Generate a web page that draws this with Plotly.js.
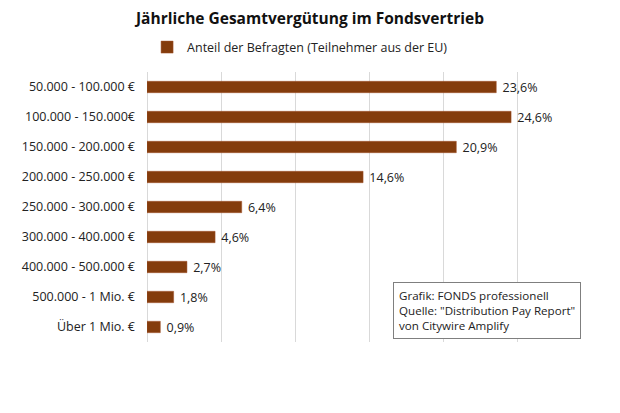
<!DOCTYPE html>
<html>
<head>
<meta charset="utf-8">
<script src="https://cdn.plot.ly/plotly-3.0.1.min.js"></script>
<style>html,body{margin:0;padding:0;background:#fff;}#chart{width:620px;height:413px;}</style>
</head>
<body>
<div id="chart"></div>
<script>
const categories = [
  "50.000 - 100.000 €",
  "100.000 - 150.000€",
  "150.000 - 200.000 €",
  "200.000 - 250.000 €",
  "250.000 - 300.000 €",
  "300.000 - 400.000 €",
  "400.000 - 500.000 €",
  "500.000 - 1 Mio. €",
  "Über 1 Mio. €"
];
const shares = [23.6, 24.6, 20.9, 14.6, 6.4, 4.6, 2.7, 1.8, 0.9];
const seriesName = "Anteil der Befragten (Teilnehmer aus der EU)";
const titleText = "Jährliche Gesamtvergütung im Fondsvertrieb";
const sourceLines = ["Grafik: FONDS professionell", "Quelle: \"Distribution Pay Report\"", "von Citywire Amplify"];

const font = "Open Sans, Liberation Sans, sans-serif";

const trace = {
  type: "bar",
  orientation: "h",
  y: categories,
  x: shares,
  name: seriesName,
  marker: {color: "#843C0C", line: {color: "#A0522D", width: 0.5}},
  texttemplate: " %{x:.1f}%",
  textposition: "outside",
  constraintext: "none",
  cliponaxis: false,
  textfont: {family: font, size: 12.5, color: "#222"},
  hoverinfo: "skip"
};

const layout = {
  width: 620, height: 413,
  margin: {l: 147, r: 29, t: 72, b: 71},
  paper_bgcolor: "#fff", plot_bgcolor: "#fff",
  separators: ",.",
  bargap: 0.62,
  showlegend: true,
  title: {text: "<b>" + titleText + "</b>", font: {family: font, size: 15.5, color: "#111"}, x: 0.5, xanchor: "center", y: 0.955, yanchor: "middle"},
  legend: {orientation: "h", xref: "container", yref: "container", x: 0.484, xanchor: "center", y: 0.885, yanchor: "middle",
           font: {family: font, size: 12.5, color: "#222"}, itemwidth: 30},
  xaxis: {range: [0, 30], dtick: 5, showticklabels: false, showgrid: true, gridcolor: "#d9d9d9", gridwidth: 1,
          zeroline: true, zerolinecolor: "#d9d9d9", zerolinewidth: 1, showline: false, fixedrange: true},
  yaxis: {autorange: "reversed", showgrid: false, showline: false, ticks: "", ticklabelstandoff: 11,
          tickfont: {family: font, size: 12.5, color: "#222"}, fixedrange: true},
  annotations: [{
    xref: "paper", yref: "paper", x: (393 - 147) / 444, y: (342 - 282) / 270, xanchor: "left", yanchor: "top",
    text: sourceLines.join("<br>"), align: "left", showarrow: false,
    font: {family: font, size: 11.6, color: "#222"},
    bordercolor: "#7f7f7f", borderwidth: 1, borderpad: 5, bgcolor: "#fff"
  }]
};

Plotly.newPlot("chart", [trace], layout, {displayModeBar: false, staticPlot: true});
</script>
</body>
</html>
